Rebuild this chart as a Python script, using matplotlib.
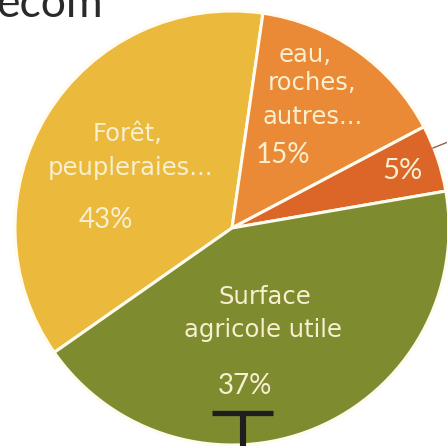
import matplotlib
matplotlib.use("Agg")
import matplotlib.pyplot as plt

# ---- data (slice shares as drawn, clockwise from the yellow slice) ----
categories = ["Forêt, peupleraies...", "eau, roches, autres...", "autre", "Surface agricole utile"]
shares = [37, 15, 5, 43]          # angular shares as they appear in the picture
pct_labels = ["43%", "15%", "5%", "37%"]   # printed labels
colors = ["#EBB93B", "#EA8A36", "#DC6528", "#7E8C2F"]

W, H = 447, 446
fig = plt.figure(figsize=(W / 100, H / 100), dpi=100)
ax = fig.add_axes([0, 0, 1, 1])

def Y(y):
    return H - y

cx, cy, r = 232, Y(228), 217
ax.pie(shares, colors=colors, startangle=215, counterclock=False,
       center=(cx, cy), radius=r,
       wedgeprops=dict(edgecolor="#FFFBEF", linewidth=2.2))
ax.set_xlim(0, W)
ax.set_ylim(0, H)
ax.set_aspect("auto")
ax.axis("off")

txt = "#F7EFD0"
lab_fam = ["DejaVu Sans"]
pct_fam = ["Lato", "DejaVu Sans"]

def t(x, y, s, size, fam):
    ax.text(x, Y(y), s, color=txt, fontsize=size, ha="center", va="center",
            family=fam)

LS = 17.5
# Forêt
t(128, 134, "Forêt,", LS, lab_fam)
t(130, 168, "peupleraies...", LS, lab_fam)
t(106, 220, pct_labels[0], 20, pct_fam)
# eau
t(305, 55, "eau,", LS, lab_fam)
t(312, 83, "roches,", LS, lab_fam)
t(313, 117, "autres...", LS, lab_fam)
t(283, 155, pct_labels[1], 20, pct_fam)
# 5%
t(402, 171, pct_labels[2], 21, pct_fam)
# SAU
t(265, 297, "Surface", LS, lab_fam)
t(263, 330, "agricole utile", LS, lab_fam)
t(245, 386, pct_labels[3], 20, pct_fam)

# leader line from the 5% slice
ax.plot([433, 448], [Y(148), Y(142)], color="#8A6450", lw=1.0)

# black "T" marker
ax.plot([212, 273], [Y(413), Y(413)], color="#1E1E1E", lw=3.8, solid_capstyle="butt")
ax.plot([242.5, 242.5], [Y(413), Y(450)], color="#1E1E1E", lw=4.4, solid_capstyle="butt")

# cut title at top left
ax.text(-4, Y(17), "ecom", color="#2A2A2A", fontsize=32, family=pct_fam,
        ha="left", va="baseline")

fig.savefig("out.png", dpi=100)
